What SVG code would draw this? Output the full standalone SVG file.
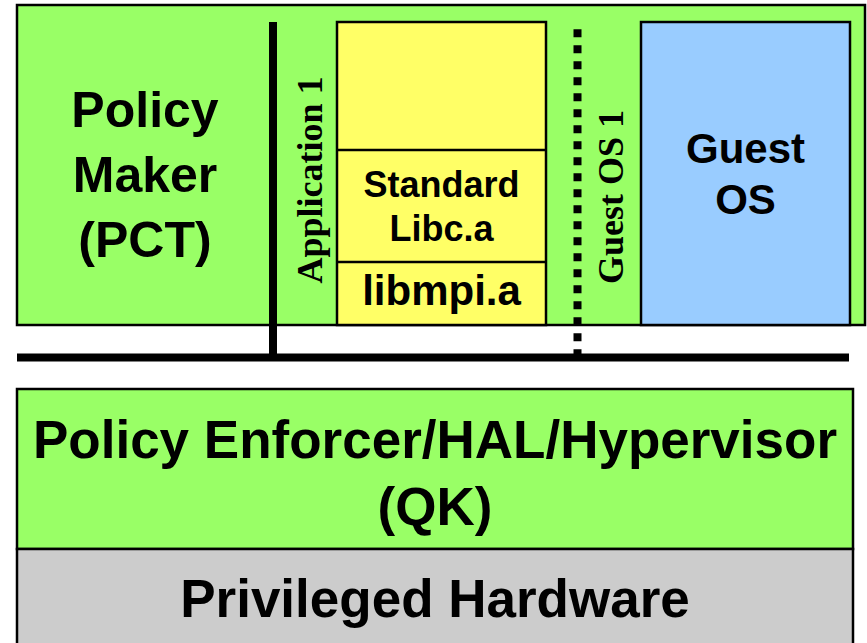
<svg xmlns="http://www.w3.org/2000/svg" width="867" height="643" viewBox="0 0 867 643">
  <style>
    .box { stroke: #000; stroke-width: 2.5; }
    .green { fill: #99FF66; }
    .yellow { fill: #FFFF66; }
    .blue { fill: #99CCFF; }
    .gray { fill: #CCCCCC; }
    .lbl { font-family: "Liberation Sans", Arial, sans-serif; font-weight: bold; fill: #000; text-anchor: middle; }
    .vlbl { font-family: "Liberation Serif", "Times New Roman", serif; font-weight: bold; fill: #000; text-anchor: middle; font-size: 36px; }
    .bus { stroke: #000; stroke-width: 8; fill: none; }
  </style>

  <!-- upper partition area -->
  <g id="partitions">
    <rect class="box green" x="17" y="5" width="848" height="320"/>
  </g>

  <g id="policy-maker">
    <text class="lbl" font-size="50" x="145" y="127">Policy</text>
    <text class="lbl" font-size="50" x="145" y="192">Maker</text>
    <text class="lbl" font-size="50" x="145" y="257">(PCT)</text>
  </g>

  <g id="application-1">
    <rect class="box yellow" x="337" y="22" width="209" height="303"/>
    <line x1="337" y1="150" x2="546" y2="150" stroke="#000" stroke-width="2.5"/>
    <line x1="337" y1="262" x2="546" y2="262" stroke="#000" stroke-width="2.5"/>
    <text class="lbl" font-size="36" x="441.5" y="197">Standard</text>
    <text class="lbl" font-size="36" x="441.5" y="241">Libc.a</text>
    <text class="lbl" font-size="42" x="441.5" y="305">libmpi.a</text>
    <text class="vlbl" transform="translate(322,180) rotate(-90)">Application 1</text>
  </g>

  <g id="guest-os-1">
    <rect class="box blue" x="641" y="22" width="209" height="303"/>
    <text class="lbl" font-size="42" x="745.5" y="163">Guest</text>
    <text class="lbl" font-size="42" x="745.5" y="214">OS</text>
    <text class="vlbl" transform="translate(623,197) rotate(-90)">Guest OS 1</text>
  </g>

  <!-- bus and partition separators -->
  <g id="connectors">
    <line class="bus" x1="17" y1="357.5" x2="849" y2="357.5"/>
    <line class="bus" x1="273" y1="22" x2="273" y2="357"/>
    <line class="bus" x1="577.5" y1="29.3" x2="577.5" y2="357" stroke-dasharray="8 8"/>
  </g>

  <g id="policy-enforcer">
    <rect class="box green" x="17" y="389" width="836" height="160"/>
    <text class="lbl" font-size="53" x="435" y="458">Policy Enforcer/HAL/Hypervisor</text>
    <text class="lbl" font-size="53" x="435" y="525">(QK)</text>
  </g>

  <g id="privileged-hardware">
    <rect class="box gray" x="17" y="549" width="836" height="100"/>
    <text class="lbl" font-size="53" x="435" y="617">Privileged Hardware</text>
  </g>
</svg>
